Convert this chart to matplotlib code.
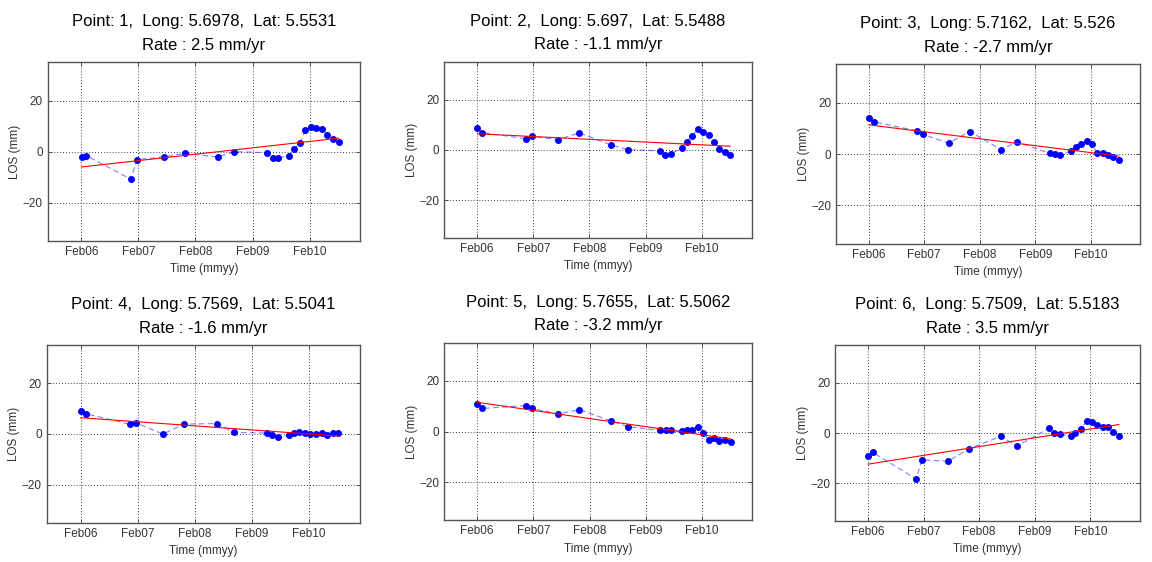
import matplotlib
matplotlib.use("Agg")
import matplotlib.pyplot as plt
import matplotlib.dates as mdates
import numpy as np
import pandas as pd

plt.rcParams['font.family'] = ['Liberation Sans', 'DejaVu Sans']

# Acquisition dates (common to all points)
dates = pd.to_datetime([
    '2006-02-02', '2006-03-05', '2006-12-15', '2007-01-21', '2007-07-12',
    '2007-11-27', '2008-06-22', '2008-10-06', '2009-05-07', '2009-06-09',
    '2009-07-15', '2009-09-23', '2009-10-25', '2009-12-01', '2010-01-06',
    '2010-02-08', '2010-03-17', '2010-04-22', '2010-05-25', '2010-07-01',
    '2010-08-06'])

point_ids = [1, 2, 3, 4, 5, 6]
longs = ['5.6978', '5.697', '5.7162', '5.7569', '5.7655', '5.7509']
lats = ['5.5531', '5.5488', '5.526', '5.5041', '5.5062', '5.5183']
rates = [2.5, -1.1, -2.7, -1.6, -3.2, 3.5]
trend_start = [-6.0, 6.4, 11.4, 6.4, 11.5, -12.4]

los_p1 = [-2.1, -1.6, -10.8, -3.1, -2.1, -0.65, -2.1, 0.0, -0.4, -2.6, -2.5,
          -1.6, 1.0, 3.3, 8.4, 9.8, 9.2, 9.0, 6.7, 5.0, 3.7]
los_p2 = [8.6, 6.9, 4.4, 5.4, 4.0, 6.8, 1.9, 0.1, -0.4, -2.1, -1.6,
          0.7, 3.3, 5.7, 8.2, 7.0, 5.8, 3.2, 0.4, -0.9, -2.1]
los_p3 = [14.0, 12.6, 9.1, 7.7, 4.3, 8.8, 1.8, 4.8, 0.3, 0.0, -0.3,
          1.2, 2.9, 3.8, 5.2, 4.0, 0.4, 0.4, -0.5, -1.3, -2.2]
los_p4 = [8.9, 8.0, 3.8, 4.4, 0.0, 3.9, 4.1, 0.65, 0.4, -0.3, -1.3,
          -0.5, 0.4, 0.8, 0.4, 0.1, 0.1, 0.4, -0.5, 0.4, 0.4]
los_p5 = [11.0, 9.1, 10.2, 9.1, 6.9, 8.6, 4.1, 1.9, 0.4, 0.4, 0.4,
          0.3, 0.7, 0.5, 1.9, -0.4, -3.3, -2.6, -3.6, -3.2, -4.1]
los_p6 = [-9.2, -7.7, -18.3, -10.7, -11.2, -6.3, -1.3, -5.2, 2.0, 0.0, -0.5,
          -1.3, 0.0, 1.6, 4.7, 4.4, 3.2, 2.5, 2.5, 0.4, -1.1]
series = [los_p1, los_p2, los_p3, los_p4, los_p5, los_p6]

tick_dates = pd.to_datetime(['2006-02-01', '2007-02-01', '2008-02-01',
                             '2009-02-01', '2010-02-01'])
xlim = pd.to_datetime(['2005-06-30', '2010-12-23'])
yticks = [-20, 0, 20]

W, H = 1152, 562
fig = plt.figure(figsize=(W / 100, H / 100), dpi=100)

# pixel boxes: left, right, top, bottom
boxes = [
    (47.7, 360.3, 62.3, 241.0),
    (444.0, 751.7, 62.0, 237.7),
    (836.0, 1140.0, 64.3, 244.0),
    (46.7, 360.0, 345.0, 523.0),
    (444.0, 752.0, 342.7, 520.3),
    (835.0, 1140.0, 345.0, 521.0),
]

gray = '#3a3a3a'
t_years = np.array([(d - dates[0]).days / 365.25 for d in dates])

for i, (l, r, t, b) in enumerate(boxes):
    ax = fig.add_axes([l / W, 1 - b / H, (r - l) / W, (b - t) / H])
    vals = series[i]
    ax.plot(dates, vals, color='blue', linestyle=(0, (5, 3)), lw=0.8, alpha=0.5)
    ax.plot(dates, vals, linestyle='none', marker='o', ms=4.0, color='blue',
            markeredgecolor='blue')
    trend = trend_start[i] + rates[i] * t_years
    ax.plot([dates[0], dates[-1]], [trend[0], trend[-1]], color='red', lw=0.8)
    ax.set_xlim(xlim[0], xlim[1])
    ax.set_ylim(-35, 35)
    ax.set_xticks(tick_dates)
    ax.xaxis.set_major_formatter(mdates.DateFormatter('%b%y'))
    ax.set_yticks(yticks)
    ax.grid(True, color='black', linestyle=(0, (1, 2.5)), lw=0.6)
    ax.tick_params(direction='in', length=3, width=0.6, colors=gray,
                   labelsize=8.5, labelcolor='#333333', top=True, right=True)
    for sp in ax.spines.values():
        sp.set_color('#555555')
        sp.set_linewidth(1.0)
    ax.set_xlabel('Time (mmyy)', fontsize=8.5, color='#333333', labelpad=4)
    ax.set_ylabel('LOS (mm)', fontsize=8.5, color='#333333', labelpad=1)
    ax.set_title(f'Point: {point_ids[i]},  Long: {longs[i]},  Lat: {lats[i]}\n'
                 f'Rate : {rates[i]} mm/yr', fontsize=12, linespacing=1.7,
                 pad=9, color='black')

fig.savefig('out.png', dpi=100)
